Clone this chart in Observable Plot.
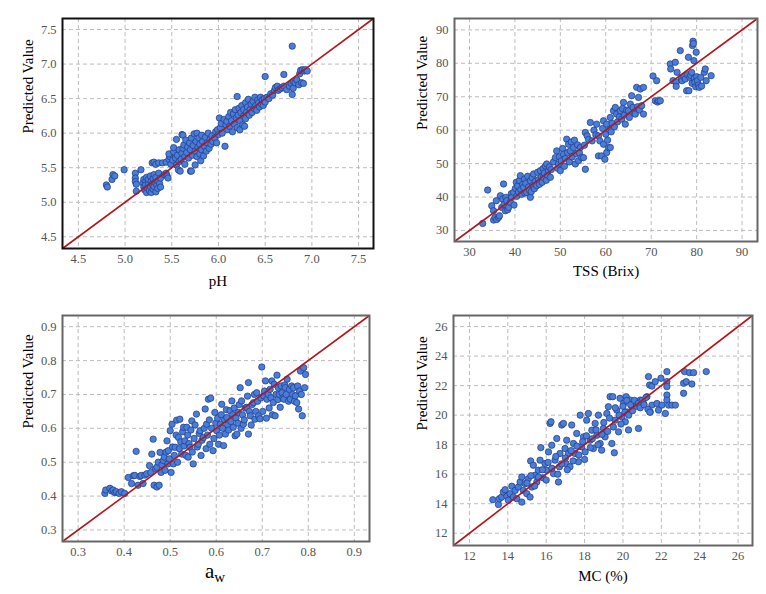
<!DOCTYPE html>
<html><head><meta charset="utf-8">
<script src="https://cdn.jsdelivr.net/npm/d3@7"></script>
<script src="https://cdn.jsdelivr.net/npm/@observablehq/plot@0.6"></script>
<style>
body{margin:0;background:#fff;}
#root{position:relative;width:766px;height:594px;font-family:"Liberation Serif",serif;}
.panel{position:absolute;}
#awlabel{position:absolute;left:215px;top:573px;transform:translate(-50%,-50%);font-family:"Liberation Serif",serif;font-size:21px;line-height:1;color:#000;white-space:nowrap;}
#awlabel sub{font-size:15px;vertical-align:-4px;}
</style></head><body><div id="root"></div>
<script>
// ---- tick labels ----
const phTicks = [4.5, 5.0, 5.5, 6.0, 6.5, 7.0, 7.5];
const tssTicks = [30, 40, 50, 60, 70, 80, 90];
const awTicks = [0.3, 0.4, 0.5, 0.6, 0.7, 0.8, 0.9];
const mcTicks = [12, 14, 16, 18, 20, 22, 24, 26];

// ---- axis extents ----
const phDomain = [4.33, 7.66];
const tssDomain = [26.7, 93.4];
const awDomain = [0.266, 0.933];
const mcDomain = [11.17, 26.75];

// ---- [measured, predicted] ----
const phPoints = [
[4.80,5.25],[4.81,5.22],[4.86,5.33],[4.87,5.40],[4.89,5.38],[4.99,5.47],
[5.11,5.42],[5.11,5.35],[5.11,5.30],[5.12,5.26],[5.12,5.16],[5.17,5.47],
[5.19,5.28],[5.20,5.33],[5.20,5.22],[5.21,5.18],[5.22,5.30],[5.22,5.25],[5.23,5.36],[5.23,5.14],[5.24,5.21],[5.25,5.28],[5.25,5.33],[5.26,5.17],[5.27,5.23],[5.27,5.38],[5.28,5.30],[5.28,5.14],[5.29,5.26],[5.30,5.34],[5.30,5.19],[5.31,5.40],[5.31,5.23],[5.32,5.29],[5.33,5.15],[5.33,5.36],[5.34,5.25],[5.35,5.31],[5.35,5.20],[5.36,5.42],[5.37,5.27],[5.38,5.35],[5.38,5.22],[5.29,5.57],[5.31,5.58],[5.33,5.55],[5.36,5.57],[5.40,5.57],
[5.42,5.40],[5.44,5.42],[5.45,5.38],[5.46,5.35],[5.44,5.58],[5.47,5.62],[5.48,5.66],[5.49,5.55],[5.47,5.70],
[5.51,5.61],[5.52,5.73],[5.52,5.79],[5.54,5.64],[5.55,5.91],[5.55,5.54],[5.56,5.68],[5.57,5.47],[5.58,5.59],[5.58,5.76],[5.59,5.45],[5.60,5.62],[5.61,5.98],[5.62,5.97],[5.61,5.71],[5.62,5.78],[5.63,5.83],[5.64,5.66],[5.64,5.55],[5.65,5.90],
[5.66,5.72],[5.67,5.80],[5.68,5.64],[5.69,5.86],[5.70,5.45],[5.71,5.45],[5.70,5.76],[5.71,5.93],[5.72,5.68],[5.73,5.82],[5.74,5.99],[5.75,5.54],[5.75,5.74],[5.76,5.88],[5.77,5.66],[5.77,6.00],[5.78,5.79],[5.79,5.93],[5.80,5.70],[5.80,5.84],[5.81,5.60],[5.82,5.97],[5.82,5.76],[5.83,5.88],[5.84,5.67],[5.85,5.81],[5.86,5.94],[5.87,5.74],[5.88,5.86],[5.89,6.00],[5.90,5.78],[5.91,5.91],[5.92,5.84],[5.93,5.96],[5.94,5.88],
[5.96,5.93],[5.97,6.02],[5.98,5.86],[5.99,6.05],[6.00,5.98],[6.01,6.22],[6.02,6.08],[6.03,6.14],[6.04,6.00],[6.06,6.20],[6.07,5.81],[6.08,6.12],[6.09,6.17],[6.10,6.05],
[6.11,6.24],[6.12,6.10],[6.13,6.30],[6.14,6.18],[6.15,6.02],[6.16,6.28],[6.17,6.13],[6.18,6.34],[6.19,6.22],[6.20,6.53],[6.20,6.08],[6.21,6.26],[6.22,6.36],[6.23,6.05],[6.23,6.18],[6.24,6.30],[6.25,6.40],[6.26,6.12],[6.27,6.25],[6.27,6.34],[6.28,6.10],[6.29,6.44],[6.29,6.21],[6.30,6.30],
[6.31,6.38],[6.32,6.49],[6.33,6.26],[6.34,6.34],[6.35,6.42],[6.36,6.30],[6.37,6.46],[6.38,6.36],[6.39,6.52],[6.40,6.40],[6.41,6.33],[6.42,6.48],[6.43,6.44],[6.44,6.38],[6.45,6.52],[6.46,6.42],[6.47,6.48],[6.48,6.40],[6.49,6.50],[6.50,6.82],[6.50,6.45],
[6.52,6.52],[6.54,6.50],[6.56,6.57],[6.58,6.55],[6.60,6.62],[6.61,6.66],[6.63,6.68],[6.64,6.62],[6.66,6.64],[6.68,6.66],[6.70,6.68],[6.70,6.85],
[6.73,6.63],[6.76,6.68],[6.78,6.72],[6.79,6.56],[6.79,7.26],[6.80,6.75],[6.80,6.65],[6.82,6.73],[6.84,6.77],[6.86,6.70],[6.87,6.86],[6.88,6.91],[6.89,6.73],[6.90,6.92],[6.92,6.90],[6.93,6.92],[6.95,6.90],[6.91,6.72]
];

const tssPoints = [
[32.9,32.1],[34.0,42.1],[34.9,37.4],[35.3,35.9],[35.3,33.1],[35.6,33.9],[35.9,38.9],[36.0,33.3],[36.4,33.9],[36.6,34.4],[36.8,40.4],[37.1,36.9],[37.3,39.4],[37.5,43.9],[37.6,37.8],[37.9,35.9],[38.0,39.9],[38.2,38.9],[38.4,36.2],[38.6,36.9],[39.0,38.4],[39.2,41.0],[39.3,39.9],[39.7,41.4],[39.8,37.6],
[40.1,42.6],[40.3,44.4],[40.4,40.2],[40.6,43.3],[40.8,41.5],[41.0,44.9],[41.2,46.4],[41.3,42.2],[41.5,40.8],[41.7,43.8],[41.9,42.9],[42.1,45.4],[42.2,41.2],[42.4,44.1],[42.6,41.4],[42.8,46.2],[43.0,43.0],[43.2,42.0],[43.4,39.9],[43.4,44.9],[43.6,41.6],[43.8,45.8],[44.0,43.4],[44.1,46.9],[44.3,42.5],[44.5,44.7],[44.8,43.4],[45.0,47.4],[45.2,45.2],[45.4,43.8],[45.6,47.9],[45.8,46.0],[46.0,44.4],[46.2,48.5],[46.3,45.9],[46.5,47.2],[46.7,49.3],[46.9,45.0],[47.0,49.9],[47.2,46.5],[47.4,47.9],[47.6,49.0],[47.8,45.9],[48.0,48.2],
[48.5,50.5],[48.9,51.8],[49.2,53.8],[49.4,48.6],[49.6,49.9],[49.8,52.0],[50.0,47.9],[50.2,50.8],[50.5,54.5],[50.7,52.8],[50.9,49.2],[51.1,51.5],[51.4,57.3],[51.6,53.3],[51.8,55.8],[52.0,50.5],[52.2,53.8],[52.4,56.5],[52.6,52.0],[52.9,54.8],[53.1,57.0],[53.3,49.9],[53.5,53.0],[53.8,55.6],[54.0,50.9],[54.2,53.2],[54.4,54.8],[54.7,51.8],[55.1,51.8],[55.3,55.5],[55.5,48.3],
[55.5,59.3],[55.9,58.3],[56.2,57.2],[56.6,62.3],[57.0,56.8],[57.4,60.0],[57.8,58.6],[58.0,61.8],[58.4,58.3],[58.4,52.3],[58.7,56.8],[59.1,52.3],[59.3,60.5],[59.5,55.8],[59.5,62.8],[59.8,51.3],[60.0,58.8],[60.2,53.3],[60.2,61.8],[60.4,57.0],[60.6,54.8],[60.8,60.2],[61.0,54.8],[61.0,63.8],[61.2,59.5],[61.4,62.0],[61.7,65.8],[61.9,61.0],[62.1,66.8],[62.4,64.8],[62.6,62.5],
[63.0,64.0],[63.2,65.8],[63.5,63.3],[63.7,66.5],[63.9,68.3],[64.1,64.5],[64.3,61.8],[64.6,66.0],[65.0,65.8],[65.2,63.8],[65.4,67.8],[65.7,70.3],[66.0,66.8],[66.2,65.2],[66.5,64.8],[66.8,72.8],[67.0,67.0],[67.2,69.8],[67.4,66.0],[67.6,72.3],[67.9,67.3],[68.3,72.8],[68.3,64.8],
[70.4,76.2],[70.9,68.8],[71.2,74.8],[71.4,68.4],[71.6,68.8],[72.0,68.8],
[74.2,79.8],[74.3,78.3],[74.8,74.8],[75.3,80.3],[75.5,74.3],[75.5,73.1],[75.7,77.3],[76.4,83.8],[76.6,75.6],[76.8,74.8],[77.2,76.0],[77.5,75.3],[77.8,71.8],[78.0,76.6],[78.2,81.8],[78.3,71.8],[78.5,75.8],[78.7,76.4],[78.9,77.3],[79.0,74.0],[79.1,85.3],[79.2,86.6],[79.3,85.9],[79.4,80.8],[79.5,75.5],[79.6,74.3],[79.8,73.0],[79.9,83.3],[80.0,76.0],[80.2,74.8],[80.4,73.5],[80.6,72.8],[80.9,75.8],[81.1,73.2],[81.7,77.3],[81.9,78.3],[82.1,74.8],[83.2,76.3]
];

const awPoints = [
[0.358,0.408],[0.360,0.418],[0.369,0.423],[0.373,0.415],[0.376,0.418],[0.380,0.410],[0.383,0.413],[0.389,0.408],[0.394,0.413],[0.401,0.408],[0.409,0.455],[0.416,0.437],[0.420,0.460],[0.426,0.532],[0.423,0.461],[0.430,0.432],[0.434,0.458],[0.437,0.461],[0.441,0.437],[0.445,0.462],[0.449,0.466],[0.455,0.490],[0.458,0.470],[0.460,0.524],[0.463,0.568],[0.465,0.432],[0.468,0.480],[0.471,0.427],[0.471,0.485],[0.474,0.500],[0.476,0.432],[0.478,0.529],[0.480,0.470],[0.482,0.492],[0.485,0.505],[0.487,0.515],[0.489,0.476],[0.491,0.530],[0.493,0.563],[0.495,0.495],[0.496,0.534],[0.498,0.510],[0.500,0.593],[0.502,0.470],[0.504,0.612],[0.505,0.545],[0.507,0.495],[0.509,0.520],[0.511,0.544],[0.513,0.580],[0.514,0.624],
[0.516,0.500],[0.518,0.573],[0.520,0.540],[0.521,0.627],[0.523,0.560],[0.525,0.524],[0.527,0.590],[0.529,0.603],[0.530,0.548],[0.532,0.563],[0.534,0.520],[0.536,0.603],[0.538,0.580],[0.539,0.515],[0.541,0.555],[0.543,0.544],[0.545,0.595],[0.547,0.622],[0.548,0.530],[0.550,0.495],[0.552,0.570],[0.554,0.610],[0.557,0.642],[0.559,0.545],[0.561,0.553],[0.563,0.585],[0.565,0.593],[0.567,0.520],[0.569,0.565],[0.572,0.573],[0.574,0.600],[0.576,0.657],[0.578,0.540],[0.579,0.612],[0.581,0.580],[0.583,0.686],[0.585,0.625],[0.586,0.553],[0.588,0.689],[0.590,0.600],[0.593,0.534],[0.595,0.570],[0.597,0.647],[0.599,0.615],[0.601,0.593],[0.603,0.630],[0.605,0.553],[0.607,0.580],[0.609,0.612],[0.611,0.640],[0.612,0.671],[0.614,0.600],[0.616,0.549],[0.618,0.625],[0.620,0.583],[0.622,0.655],[0.623,0.632],[0.625,0.610],[0.627,0.595],[0.630,0.652],[0.632,0.620],[0.634,0.681],[0.636,0.640],[0.637,0.603],[0.639,0.660],[0.641,0.578],[0.643,0.630],[0.645,0.583],[0.647,0.615],[0.648,0.647],[0.650,0.670],[0.652,0.720],[0.654,0.600],[0.655,0.681],[0.657,0.640],[0.659,0.612],[0.661,0.625],[0.663,0.660],[0.666,0.662],[0.668,0.695],[0.670,0.735],[0.670,0.583],[0.672,0.650],[0.674,0.637],[0.676,0.610],[0.678,0.670],[0.681,0.676],[0.683,0.700],[0.684,0.627],[0.686,0.650],[0.688,0.705],[0.690,0.680],[0.692,0.637],[0.695,0.628],[0.697,0.690],[0.699,0.781],[0.701,0.650],[0.703,0.696],[0.705,0.710],[0.707,0.740],[0.709,0.630],[0.710,0.686],[0.713,0.700],[0.715,0.660],[0.717,0.715],[0.719,0.690],[0.721,0.740],[0.722,0.640],[0.724,0.676],[0.726,0.730],[0.728,0.637],[0.730,0.700],[0.732,0.757],[0.734,0.685],[0.735,0.720],[0.737,0.700],[0.739,0.662],[0.741,0.725],[0.743,0.705],[0.745,0.690],[0.747,0.686],[0.749,0.728],[0.750,0.720],[0.752,0.700],[0.754,0.745],[0.757,0.680],[0.759,0.715],[0.761,0.686],[0.764,0.725],[0.766,0.700],[0.768,0.720],[0.770,0.680],[0.772,0.696],[0.775,0.676],[0.777,0.725],[0.779,0.657],[0.781,0.710],[0.783,0.769],[0.785,0.700],[0.787,0.637],[0.790,0.779],[0.792,0.720],[0.794,0.759]
];

const mcPoints = [
[13.22,14.27],[13.51,13.95],[13.56,14.34],[13.68,14.45],[13.77,14.79],[13.86,14.95],[13.95,14.50],[14.03,14.23],[14.12,14.68],[14.21,15.18],[14.29,14.45],[14.38,14.90],[14.47,14.34],[14.55,15.13],[14.64,15.47],[14.73,14.11],[14.73,15.81],[14.81,14.90],[14.90,15.36],[14.99,14.68],[15.07,15.70],[15.16,14.45],[15.19,16.90],[15.25,15.13],[15.33,16.61],[15.42,15.93],[15.51,15.47],[15.59,16.27],[15.68,16.95],[15.72,17.80],[15.82,15.76],[15.94,16.72],[16.03,16.27],[16.12,17.51],[16.20,19.44],[16.25,19.55],[16.29,17.96],[16.38,16.04],[16.46,16.95],[16.55,18.42],[16.64,15.47],[16.69,16.50],[16.72,17.40],[16.81,19.33],[16.90,19.44],[16.98,17.74],[17.03,16.72],[17.07,18.30],[17.16,17.40],[17.24,16.50],[17.33,19.33],[17.42,18.08],[17.50,17.40],[17.59,18.76],[17.68,16.84],[17.77,20.00],[17.85,17.85],[17.94,18.53],[18.03,17.51],[18.11,19.66],[18.20,20.11],[18.29,18.30],[18.38,18.98],[18.46,17.74],[18.55,19.44],[18.64,18.64],[18.72,20.00],[18.81,18.08],[18.89,17.63],[18.98,19.10],[19.07,18.53],[19.16,20.11],[19.24,20.57],[19.33,21.25],[19.47,21.25],[19.42,18.08],[19.55,17.45],[19.59,19.66],[19.68,20.34],[19.77,18.87],[19.85,21.14],[19.94,19.89],[20.03,20.79],[20.12,19.55],[20.17,21.25],[20.21,20.22],[20.29,19.00],[20.38,21.02],[20.47,20.57],[20.55,20.79],[20.81,19.10],[20.90,21.02],[21.07,20.79],[21.25,21.25],[21.33,22.61],[21.39,22.04],[21.42,20.22],[21.51,20.68],[21.51,21.97],[21.68,22.27],[21.77,20.79],[21.85,20.34],[21.98,22.50],[22.03,20.68],[22.21,20.11],[22.29,22.95],[22.29,22.27],[22.29,21.93],[22.29,21.36],[22.29,21.02],[22.38,20.68],[22.55,20.68],[22.73,20.68],[23.16,22.16],[23.16,21.48],[23.21,22.95],[23.30,22.27],[23.47,22.88],[23.59,22.11],[23.68,22.88],[24.34,22.95],
[15.0,15.4],[15.2,15.9],[15.4,15.2],[15.6,15.8],[15.8,16.3],[16.0,15.6],[16.1,16.8],[16.3,16.4],[16.5,17.2],[16.6,16.0],[16.8,16.7],[17.0,17.1],[17.1,16.3],[17.3,17.6],[17.4,16.9],[17.6,17.9],[17.7,17.3],[17.9,18.2],[18.0,17.0],[18.1,18.6],[18.3,17.8],[18.4,18.4],[18.6,19.0],[18.7,18.0],[18.9,18.7],[19.0,19.5],[19.2,18.9],[19.3,19.8],[19.5,19.2],[19.6,20.5],[19.8,20.0],[19.9,19.4],[20.0,20.6],[20.1,20.2],[20.2,21.0],[20.3,20.0],[20.4,20.7],[20.5,20.3],[20.6,21.0],[20.7,20.6],[20.8,20.8],[20.9,20.5],[21.0,21.0],[21.1,20.7],[21.2,21.2],[21.3,20.4],[21.4,20.2]
];

const labels = {ph: "pH", tss: "TSS (Brix)", mc: "MC (%)", y: "Predicted Value"};
const FONT = "Liberation Serif";

function panel(o) {
  const marks = [
    Plot.gridX(o.ticks, {stroke: "#bdbdbd", strokeOpacity: 1, strokeDasharray: "4,3"}),
    Plot.gridY(o.ticks, {stroke: "#bdbdbd", strokeOpacity: 1, strokeDasharray: "4,3"}),
    Plot.axisX(o.ticks, {tickSize: 0, tickPadding: 6, tickFormat: o.fmt, fontSize: 12.5, fontFamily: FONT, fill: "#555", label: null}),
    Plot.axisY(o.ticks, {tickSize: 0, tickPadding: 6, tickFormat: o.fmt, fontSize: 12.5, fontFamily: FONT, fill: "#555", label: null}),
    Plot.dot(o.points, {x: d => d[0], y: d => d[1], r: 3.2, fill: "#4a7dd6", stroke: "#1d3a8a", strokeWidth: 0.7}),
    Plot.link([o.domain], {x1: d => d[0], y1: d => d[0], x2: d => d[1], y2: d => d[1], stroke: "#b5161b", strokeWidth: 1.6}),
    Plot.frame({stroke: o.frame, strokeWidth: 2}),
    Plot.text([labels.y], {frameAnchor: "left", dx: -o.ydx, rotate: -90, fontSize: 15, fontFamily: FONT, fill: "#000"})
  ];
  if (o.xlabel) marks.push(Plot.text([o.xlabel], {frameAnchor: "bottom", dy: o.xdy, fontSize: 15, fontFamily: FONT, fill: "#000"}));
  const svg = Plot.plot({
    width: 383, height: 297,
    marginLeft: o.m[0], marginRight: o.m[1], marginTop: o.m[2], marginBottom: o.m[3],
    x: {domain: o.domain, axis: null},
    y: {domain: o.domain, axis: null},
    style: {fontFamily: FONT, background: "transparent", color: "#555", overflow: "visible"},
    marks
  });
  svg.classList.add("panel");
  svg.style.left = o.left + "px";
  svg.style.top = o.top + "px";
  return svg;
}

const root = document.getElementById("root");
root.appendChild(panel({points: phPoints, domain: phDomain, ticks: phTicks, fmt: d3.format(".1f"), xlabel: labels.ph, left: 0, top: 0, m: [62, 10, 18, 49], frame: "#111", ydx: 34, xdy: 37}));
root.appendChild(panel({points: tssPoints, domain: tssDomain, ticks: tssTicks, fmt: d3.format("d"), xlabel: labels.tss, left: 383, top: 0, m: [71, 9, 18, 56], frame: "#666", ydx: 32, xdy: 34}));
root.appendChild(panel({points: awPoints, domain: awDomain, ticks: awTicks, fmt: d3.format(".1f"), xlabel: null, left: 0, top: 297, m: [62, 14, 18, 53], frame: "#666", ydx: 34, xdy: 33}));
root.appendChild(panel({points: mcPoints, domain: mcDomain, ticks: mcTicks, fmt: d3.format("d"), xlabel: labels.mc, left: 383, top: 297, m: [70, 14, 18, 49], frame: "#666", ydx: 31, xdy: 35}));

const aw = document.createElement("div");
aw.id = "awlabel";
aw.innerHTML = "a<sub>w</sub>";
root.appendChild(aw);
</script>
</body></html>
